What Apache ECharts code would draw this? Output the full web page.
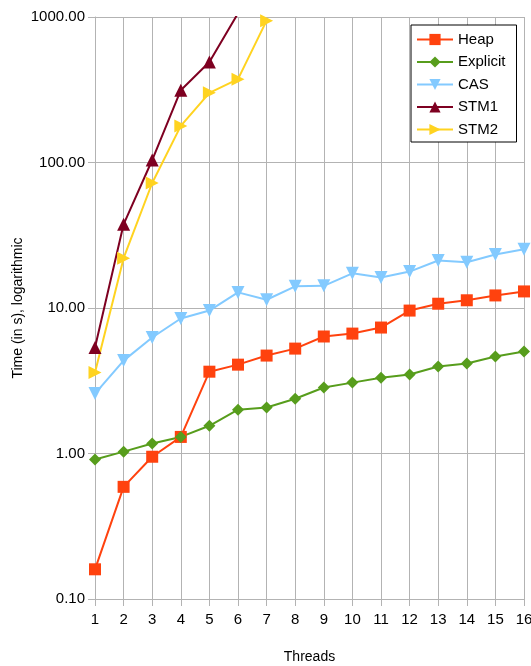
<!DOCTYPE html>
<html>
<head>
<meta charset="utf-8">
<script src="https://cdn.jsdelivr.net/npm/echarts@6/dist/echarts.min.js"></script>
<style>
  html, body { margin: 0; padding: 0; background: #ffffff; }
  #chart { width: 531px; height: 666px; }
</style>
</head>
<body>
<div id="chart"></div>
<script>
// Thread counts on the x axis
const threads = ['1','2','3','4','5','6','7','8','9','10','11','12','13','14','15','16'];

// Run times in seconds for each synchronisation strategy
const heap     = [0.16, 0.59, 0.95, 1.30, 3.65, 4.08, 4.71, 5.26, 6.37, 6.67, 7.34, 9.6, 10.7, 11.3, 12.2, 13.0];
const explicit = [0.91, 1.03, 1.17, 1.30, 1.55, 2.00, 2.07, 2.38, 2.84, 3.07, 3.32, 3.49, 3.96, 4.15, 4.64, 5.02];
const cas      = [2.58, 4.35, 6.27, 8.47, 9.6, 12.8, 11.4, 14.1, 14.2, 17.3, 16.2, 17.8, 21.2, 20.6, 23.3, 25.3];
const stm1     = [5.35, 37.6, 104, 314, 490, 1060];
const stm2     = [3.61, 22.0, 72.3, 178.5, 301, 374, 944];

const gridGray = '#b3b3b3';
const font = 'Liberation Sans, Arial, sans-serif';

function makeSeries(name, data, color, symbol, rotate, size) {
  return {
    name: name,
    type: 'line',
    data: data,
    symbol: symbol,
    symbolSize: size,
    symbolRotate: rotate,
    showAllSymbol: true,
    clip: true,
    lineStyle: { color: color, width: 2 },
    itemStyle: { color: color },
    emphasis: { disabled: true },
    animation: false
  };
}

const chart = echarts.init(document.getElementById('chart'), null, { renderer: 'canvas' });
chart.setOption({
  animation: false,
  backgroundColor: '#ffffff',
  textStyle: { fontFamily: font },
  grid: { left: 95, right: 7, top: 17, bottom: 67, containLabel: false, outerBoundsMode: 'none' },
  legend: {
    orient: 'vertical',
    left: 411,
    top: 25,
    padding: [7, 11, 5, 5],
    itemWidth: 36,
    itemHeight: 14,
    itemGap: 7.5,
    borderColor: '#000000',
    borderWidth: 1,
    backgroundColor: '#ffffff',
    textStyle: { fontFamily: font, fontSize: 15, color: '#000000' },
    data: ['Heap', 'Explicit', 'CAS', 'STM1', 'STM2']
  },
  xAxis: {
    type: 'category',
    data: threads,
    boundaryGap: false,
    name: 'Threads',
    nameLocation: 'middle',
    nameGap: 51,
    nameMoveOverlap: false,
    nameTextStyle: { fontFamily: font, fontSize: 14, color: '#000000' },
    axisLine: { show: true, lineStyle: { color: gridGray, width: 1 } },
    axisTick: { show: true, alignWithLabel: true, length: 7, lineStyle: { color: gridGray } },
    axisLabel: { fontFamily: font, fontSize: 15, color: '#000000', margin: 13, interval: 0 },
    splitLine: { show: true, lineStyle: { color: gridGray, width: 1 } }
  },
  yAxis: {
    type: 'log',
    logBase: 10,
    min: 0.1,
    max: 1000,
    name: 'Time (in s), logarithmic',
    nameLocation: 'middle',
    nameGap: 70,
    nameMoveOverlap: false,
    nameRotate: 90,
    nameTextStyle: { fontFamily: font, fontSize: 14, color: '#000000' },
    axisLine: { show: true, lineStyle: { color: gridGray, width: 1 } },
    axisTick: { show: true, length: 7, lineStyle: { color: gridGray } },
    minorTick: { show: false },
    axisLabel: {
      fontFamily: font, fontSize: 15, color: '#000000', margin: 10,
      formatter: function (v) { return Number(v).toFixed(2); }
    },
    splitLine: { show: true, lineStyle: { color: gridGray, width: 1 } }
  },
  series: [
    makeSeries('Heap', heap, '#ff420e', 'rect', 0, 12),
    makeSeries('Explicit', explicit, '#579d1c', 'diamond', 0, [12, 12]),
    makeSeries('CAS', cas, '#83caff', 'triangle', 180, 13),
    makeSeries('STM1', stm1, '#7e0021', 'triangle', 0, 13),
    makeSeries('STM2', stm2, '#ffd320', 'triangle', -90, 13)
  ]
});
</script>
</body>
</html>
